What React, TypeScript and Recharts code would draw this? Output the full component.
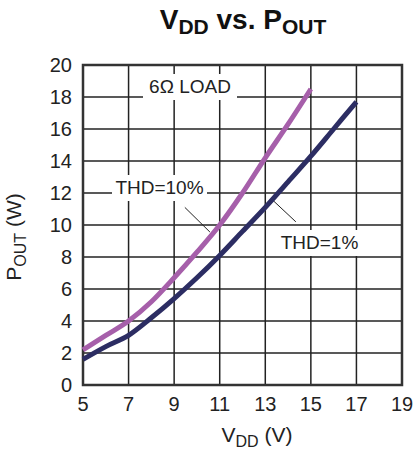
import React from "react";
import { LineChart, Line, XAxis, YAxis, CartesianGrid, ReferenceLine, ReferenceArea } from "recharts";

const vdd = [5, 6, 7, 8, 9, 10, 11, 12, 13, 14, 15, 16, 17];
const thd10 = [2.2, 3.1, 4.0, 5.2, 6.7, 8.3, 10.0, 12.0, 14.2, 16.3, 18.5, null, null];
const thd1 = [1.6, 2.4, 3.1, 4.2, 5.4, 6.7, 8.1, 9.6, 11.1, 12.7, 14.3, 16.0, 17.7];
const xTicks = [5, 7, 9, 11, 13, 15, 17, 19];
const yTicks = [0, 2, 4, 6, 8, 10, 12, 14, 16, 18, 20];

const data = vdd.map((v, i) => ({ v, thd10: thd10[i], thd1: thd1[i] }));

const FONT = '"Liberation Sans", Arial, Helvetica, sans-serif';
const PURPLE = "#A65FAA";
const NAVY = "#2C2D63";

export default function App() {
  return (
    <div style={{ position: "absolute", left: 0, top: 0, width: 417, height: 451, background: "#fff", fontFamily: FONT }}>
      <LineChart width={417} height={451} data={data} margin={{ top: 65, right: 15, left: 0, bottom: 0 }}>
        <CartesianGrid stroke="#222" strokeWidth={1.5} ticks={undefined} horizontalValues={yTicks} verticalValues={xTicks} />
        <XAxis
          dataKey="v"
          type="number"
          domain={[5, 19]}
          ticks={xTicks}
          height={66}
          tickLine={false}
          axisLine={false}
          tick={{ fill: "#222", fontSize: 20, fontFamily: FONT }}
          tickMargin={6}
        />
        <YAxis
          type="number"
          domain={[0, 20]}
          ticks={yTicks}
          width={83}
          tickLine={false}
          axisLine={false}
          tick={{ fill: "#222", fontSize: 20, fontFamily: FONT }}
          tickMargin={5}
        />
        <ReferenceArea x1={5} x2={19} y1={0} y2={20} fill="none" stroke="#333" strokeWidth={2.5} ifOverflow="visible" />
        <ReferenceLine segment={[{ x: 9.47, y: 11.1 }, { x: 10.57, y: 9.56 }]} stroke="#222" strokeWidth={1} />
        <ReferenceLine segment={[{ x: 13.29, y: 11.6 }, { x: 14.34, y: 10.2 }]} stroke="#222" strokeWidth={1} />
        <Line type="monotone" dataKey="thd10" stroke={PURPLE} strokeWidth={5} dot={false} isAnimationActive={false} connectNulls={false} />
        <Line type="monotone" dataKey="thd1" stroke={NAVY} strokeWidth={5} dot={false} isAnimationActive={false} />
      </LineChart>

      {/* Title */}
      <div style={{ position: "absolute", left: 0, width: 486, top: 2, textAlign: "center", fontSize: 28, fontWeight: "bold", color: "#111", whiteSpace: "nowrap", lineHeight: "36px" }}>
        V<span style={{ fontSize: 21, position: "relative", top: 5 }}>DD</span> vs. P<span style={{ fontSize: 21, position: "relative", top: 5 }}>OUT</span>
      </div>

      {/* X label */}
      <div style={{ position: "absolute", left: 157, width: 200, top: 422, textAlign: "center", fontSize: 21, color: "#222", whiteSpace: "nowrap", lineHeight: "26px" }}>
        V<span style={{ fontSize: 16, position: "relative", top: 5 }}>DD</span> (V)
      </div>

      {/* Y label */}
      <div style={{ position: "absolute", left: 15, top: 236, width: 0, height: 0 }}>
        <div style={{ position: "absolute", left: -100, top: -13, width: 200, textAlign: "center", transform: "rotate(-90deg)", fontSize: 21, color: "#222", whiteSpace: "nowrap", lineHeight: "26px" }}>
          P<span style={{ fontSize: 16, position: "relative", top: 5 }}>OUT</span> (W)
        </div>
      </div>

      {/* Annotations */}
      <div style={{ position: "absolute", left: 143, width: 94, top: 74, textAlign: "center", fontSize: 19, color: "#222", background: "#fff", lineHeight: "26px", whiteSpace: "nowrap" }}>
        6Ω LOAD
      </div>
      <div style={{ position: "absolute", left: 112, width: 95, top: 175, textAlign: "center", fontSize: 19, color: "#222", background: "#fff", lineHeight: "26px", whiteSpace: "nowrap" }}>
        THD=10%
      </div>
      <div style={{ position: "absolute", left: 273, width: 93, top: 230, textAlign: "center", fontSize: 19, color: "#222", background: "#fff", lineHeight: "26px", whiteSpace: "nowrap" }}>
        THD=1%
      </div>
    </div>
  );
}
